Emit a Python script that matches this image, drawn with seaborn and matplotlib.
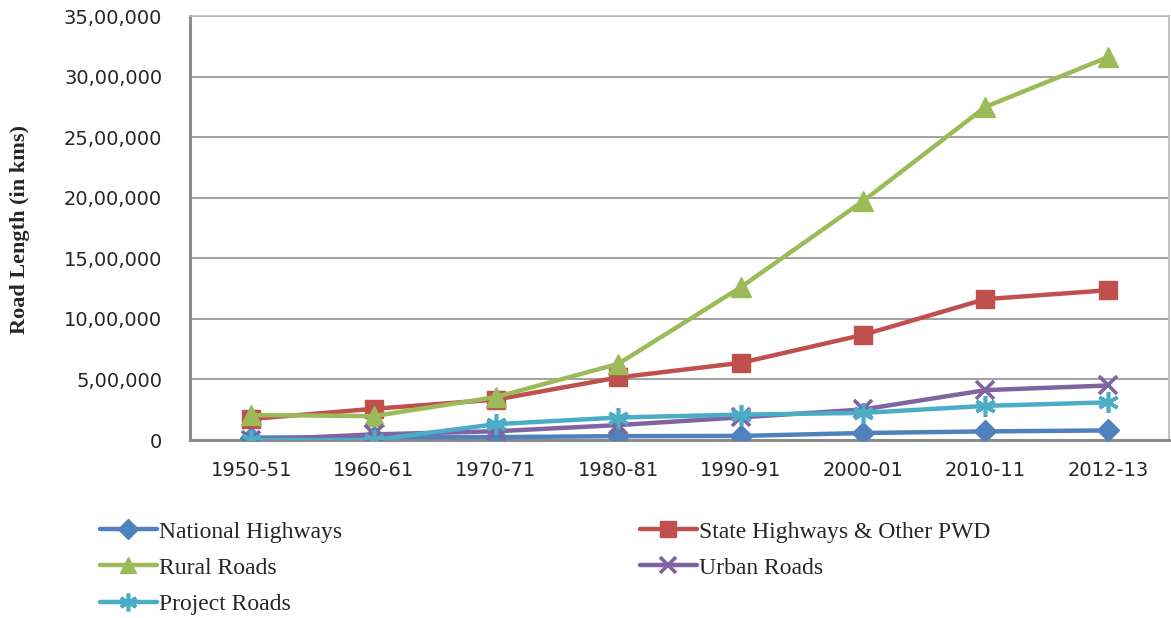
import matplotlib
matplotlib.use("Agg")
import matplotlib.pyplot as plt
import seaborn as sns
import pandas as pd
from matplotlib.ticker import FuncFormatter
from matplotlib.lines import Line2D

years = ["1950-51", "1960-61", "1970-71", "1980-81", "1990-91", "2000-01", "2010-11", "2012-13"]
national_highways = [19811, 23798, 23838, 31671, 33650, 57737, 70934, 79116]
state_highways = [173723, 257125, 333598, 516254, 636746, 868101, 1162793, 1235974]
rural_roads = [206408, 197194, 354530, 628865, 1260430, 1972016, 2749804, 3159639]
urban_roads = [0, 46361, 72120, 123120, 186799, 252001, 411679, 450000]
project_roads = [0, 0, 130893, 185511, 209737, 223665, 281628, 310955]

series_names = ["National Highways", "State Highways & Other PWD", "Rural Roads", "Urban Roads", "Project Roads"]
series_values = [national_highways, state_highways, rural_roads, urban_roads, project_roads]
colors = ["#4F81BD", "#C0504D", "#9BBB59", "#8064A2", "#4BACC6"]
markers = ["D", "s", "^", "x", (6, 2, 0)]
msizes = [11.5, 13, 14, 13, 15]

rows = []
for name, vals in zip(series_names, series_values):
    for i, (y, v) in enumerate(zip(years, vals)):
        rows.append({"Year": y, "idx": i, "Series": name, "Length": v})
df = pd.DataFrame(rows)

sns.set_style("white")
fig = plt.figure(figsize=(11.71, 6.18), dpi=100)
ax = fig.add_axes([190 / 1171, 178 / 618, (1169 - 190) / 1171, (440 - 16) / 618])

def mew(mk):
    return 2.6 if (mk == "x" or isinstance(mk, tuple)) else 1

handles = {}
for name, col, mk, ms in zip(series_names, colors, markers, msizes):
    sub = df[df["Series"] == name]
    sns.lineplot(data=sub, x="idx", y="Length", ax=ax, color=col, linewidth=3.2,
                 marker=mk, markersize=ms, markeredgecolor=col, markeredgewidth=mew(mk),
                 legend=False, zorder=3)
    handles[name] = Line2D([], [], color=col, linewidth=3.2, marker=mk, markersize=ms * 0.85,
                           markeredgecolor=col, markeredgewidth=mew(mk))

ax.set_xlim(-0.5, len(years) - 0.5)
ax.set_ylim(0, 3500000)
ax.set_xticks(range(len(years)))
ax.set_xticklabels(years)
ax.set_yticks(range(0, 3500001, 500000))

def indian(v, pos):
    v = int(round(v))
    if v == 0:
        return "0"
    s = str(v)
    last3 = s[-3:]
    rest = s[:-3]
    parts = []
    while len(rest) > 2:
        parts.insert(0, rest[-2:])
        rest = rest[:-2]
    if rest:
        parts.insert(0, rest)
    return ",".join(parts + [last3])

ax.yaxis.set_major_formatter(FuncFormatter(indian))
ax.yaxis.grid(True, color="#9a9a9a", linewidth=1.3)
ax.xaxis.grid(False)
for side in ["left", "bottom"]:
    ax.spines[side].set_color("#8c8c8c")
    ax.spines[side].set_linewidth(2.2)
for side in ["right", "top"]:
    ax.spines[side].set_color("#b8b8b8")
    ax.spines[side].set_linewidth(1.2)
ax.tick_params(axis="y", length=0, pad=20, labelsize=14, colors="#262626")
ax.tick_params(axis="x", length=0, pad=15, labelsize=14, colors="#262626")
for lbl in ax.get_xticklabels() + ax.get_yticklabels():
    lbl.set_family("DejaVu Sans")
ax.set_xlabel("")
ax.set_ylabel("")
fig.text(20 / 1171, 1 - 230 / 618, "Road Length (in kms)", rotation=90, ha="center", va="center",
         fontsize=16, fontweight="bold", family="Liberation Serif")

leg_font = {"family": "Liberation Serif", "size": 17}
left_names = ["National Highways", "Rural Roads", "Project Roads"]
right_names = ["State Highways & Other PWD", "Urban Roads"]
common = dict(loc="upper left", frameon=False, prop=leg_font, handlelength=2.4,
              handletextpad=0.1, labelspacing=0.62, borderaxespad=0, borderpad=0)
leg1 = fig.legend([handles[n] for n in left_names], left_names,
                  bbox_to_anchor=(100 / 1171, 1 - 521 / 618), **common)
leg2 = fig.legend([handles[n] for n in right_names], right_names,
                  bbox_to_anchor=(640 / 1171, 1 - 521 / 618), **common)

fig.savefig("out.png", dpi=100)
